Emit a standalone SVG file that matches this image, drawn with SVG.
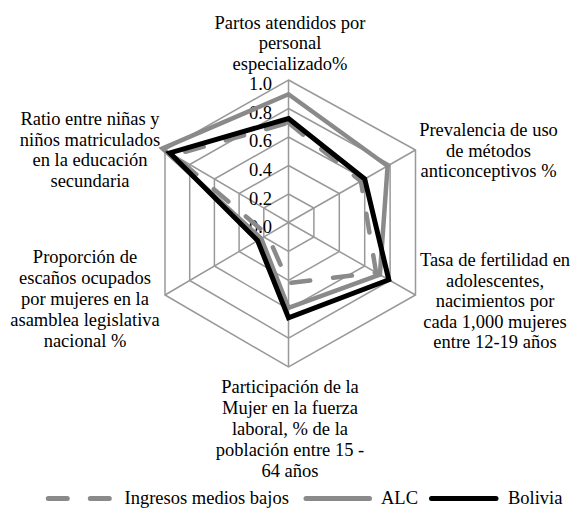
<svg xmlns="http://www.w3.org/2000/svg" width="575" height="508" viewBox="0 0 575 508">
<defs>
<polygon id="hex" points="0,-142.5 127,-72.5 127,72.5 0,144.5 -123.5,72.5 -123.5,-72.5"/>
</defs>
<rect width="575" height="508" fill="#fff"/>
<g id="grid" fill="none" stroke="#999" stroke-width="1.5">
<polygon points="288.5,80 415.5,150 415.5,295 288.5,367 165,295 165,150"/>
<polygon points="288.5,108.5 390.1,164.5 390.1,280.5 288.5,338.1 189.7,280.5 189.7,164.5"/>
<polygon points="288.5,137 364.7,179 364.7,266 288.5,309.2 214.4,266 214.4,179"/>
<polygon points="288.5,165.5 339.3,193.5 339.3,251.5 288.5,280.3 239.1,251.5 239.1,193.5"/>
<polygon points="288.5,194 313.9,208 313.9,237 288.5,251.4 263.8,237 263.8,208"/>
<path d="M288.5,222.5L288.5,80M288.5,222.5L415.5,150M288.5,222.5L415.5,295M288.5,222.5L288.5,367M288.5,222.5L165,295M288.5,222.5L165,150"/>
</g>
<g id="ticks">
<text x="272" y="90" font-family="Liberation Serif" font-size="18.5" text-anchor="end">1.0</text>
<text x="272" y="118.5" font-family="Liberation Serif" font-size="18.5" text-anchor="end">0.8</text>
<text x="272" y="147" font-family="Liberation Serif" font-size="18.5" text-anchor="end">0.6</text>
<text x="272" y="176" font-family="Liberation Serif" font-size="18.5" text-anchor="end">0.4</text>
<text x="272" y="204.5" font-family="Liberation Serif" font-size="18.5" text-anchor="end">0.2</text>
<text x="272" y="233" font-family="Liberation Serif" font-size="18.5" text-anchor="end">0.0</text>
</g>
<g id="series" fill="none" stroke-miterlimit="10">
<polygon id="s-lmb" stroke="#8a8a8a" stroke-width="4.5" stroke-dasharray="19 23" stroke-linecap="round" stroke-linejoin="round" points="288.5,122.75 360.9,181.2 376.1,272.5 288.5,283.2 267.5,234.8 173.6,155.1"/>
<polygon id="s-alc" stroke="#8a8a8a" stroke-width="4.5" points="288.5,94.25 387.6,166 379.9,274.7 288.5,307.8 261.3,238.5 162.5,148.5"/>
<polygon id="s-bol" stroke="#000" stroke-width="5" points="288.5,118.5 364.7,179 388.8,279.8 288.5,317.9 257.6,240.6 169.9,152.9"/>
</g>
<g id="label-top">
<text x="290" y="28.5" font-family="Liberation Serif" font-size="18.5" text-anchor="middle">Partos atendidos por</text>
<text x="290" y="49" font-family="Liberation Serif" font-size="18.5" text-anchor="middle">personal</text>
<text x="290" y="69.5" font-family="Liberation Serif" font-size="18.5" text-anchor="middle">especializado%</text>
</g>
<g id="label-ur">
<text x="488.5" y="136" font-family="Liberation Serif" font-size="18.5" text-anchor="middle">Prevalencia de uso</text>
<text x="488.5" y="156.5" font-family="Liberation Serif" font-size="18.5" text-anchor="middle">de métodos</text>
<text x="488.5" y="177" font-family="Liberation Serif" font-size="18.5" text-anchor="middle">anticonceptivos %</text>
</g>
<g id="label-lr">
<text x="495" y="266" font-family="Liberation Serif" font-size="18.5" text-anchor="middle">Tasa de fertilidad en</text>
<text x="495" y="286.5" font-family="Liberation Serif" font-size="18.5" text-anchor="middle">adolescentes,</text>
<text x="495" y="307" font-family="Liberation Serif" font-size="18.5" text-anchor="middle">nacimientos por</text>
<text x="495" y="327.5" font-family="Liberation Serif" font-size="18.5" text-anchor="middle">cada 1,000 mujeres</text>
<text x="495" y="348" font-family="Liberation Serif" font-size="18.5" text-anchor="middle">entre 12-19 años</text>
</g>
<g id="label-bottom">
<text x="290" y="393" font-family="Liberation Serif" font-size="18.5" text-anchor="middle">Participación de la</text>
<text x="290" y="414" font-family="Liberation Serif" font-size="18.5" text-anchor="middle">Mujer en la fuerza</text>
<text x="290" y="435" font-family="Liberation Serif" font-size="18.5" text-anchor="middle">laboral, %  de la</text>
<text x="290" y="456" font-family="Liberation Serif" font-size="18.5" text-anchor="middle">población entre 15 -</text>
<text x="290" y="477" font-family="Liberation Serif" font-size="18.5" text-anchor="middle">64 años</text>
</g>
<g id="label-ll">
<text x="85" y="263" font-family="Liberation Serif" font-size="18.5" text-anchor="middle">Proporción de</text>
<text x="85" y="284" font-family="Liberation Serif" font-size="18.5" text-anchor="middle">escaños ocupados</text>
<text x="85" y="305" font-family="Liberation Serif" font-size="18.5" text-anchor="middle">por mujeres en la</text>
<text x="85" y="326" font-family="Liberation Serif" font-size="18.5" text-anchor="middle">asamblea legislativa</text>
<text x="85" y="347" font-family="Liberation Serif" font-size="18.5" text-anchor="middle">nacional %</text>
</g>
<g id="label-ul">
<text x="90" y="125" font-family="Liberation Serif" font-size="18.5" text-anchor="middle">Ratio entre niñas y</text>
<text x="90" y="145.5" font-family="Liberation Serif" font-size="18.5" text-anchor="middle">niños matriculados</text>
<text x="90" y="166" font-family="Liberation Serif" font-size="18.5" text-anchor="middle">en la educación</text>
<text x="90" y="186.5" font-family="Liberation Serif" font-size="18.5" text-anchor="middle">secundaria</text>
</g>
<g id="legend" fill="none" stroke-width="5" stroke-linecap="round">
<path stroke="#8a8a8a" stroke-dasharray="19 23" d="M48.3,498.5H109.3"/>
<text x="124.5" y="504" fill="#000" stroke="none" font-family="Liberation Serif" font-size="18.5">Ingresos medios bajos</text>
<path stroke="#8a8a8a" d="M306,498.5H369.5"/>
<text x="381" y="504" fill="#000" stroke="none" font-family="Liberation Serif" font-size="18.5">ALC</text>
<path stroke="#000" d="M431.5,498.5H496"/>
<text x="508" y="504" fill="#000" stroke="none" font-family="Liberation Serif" font-size="18.5">Bolivia</text>
</g>
</svg>
